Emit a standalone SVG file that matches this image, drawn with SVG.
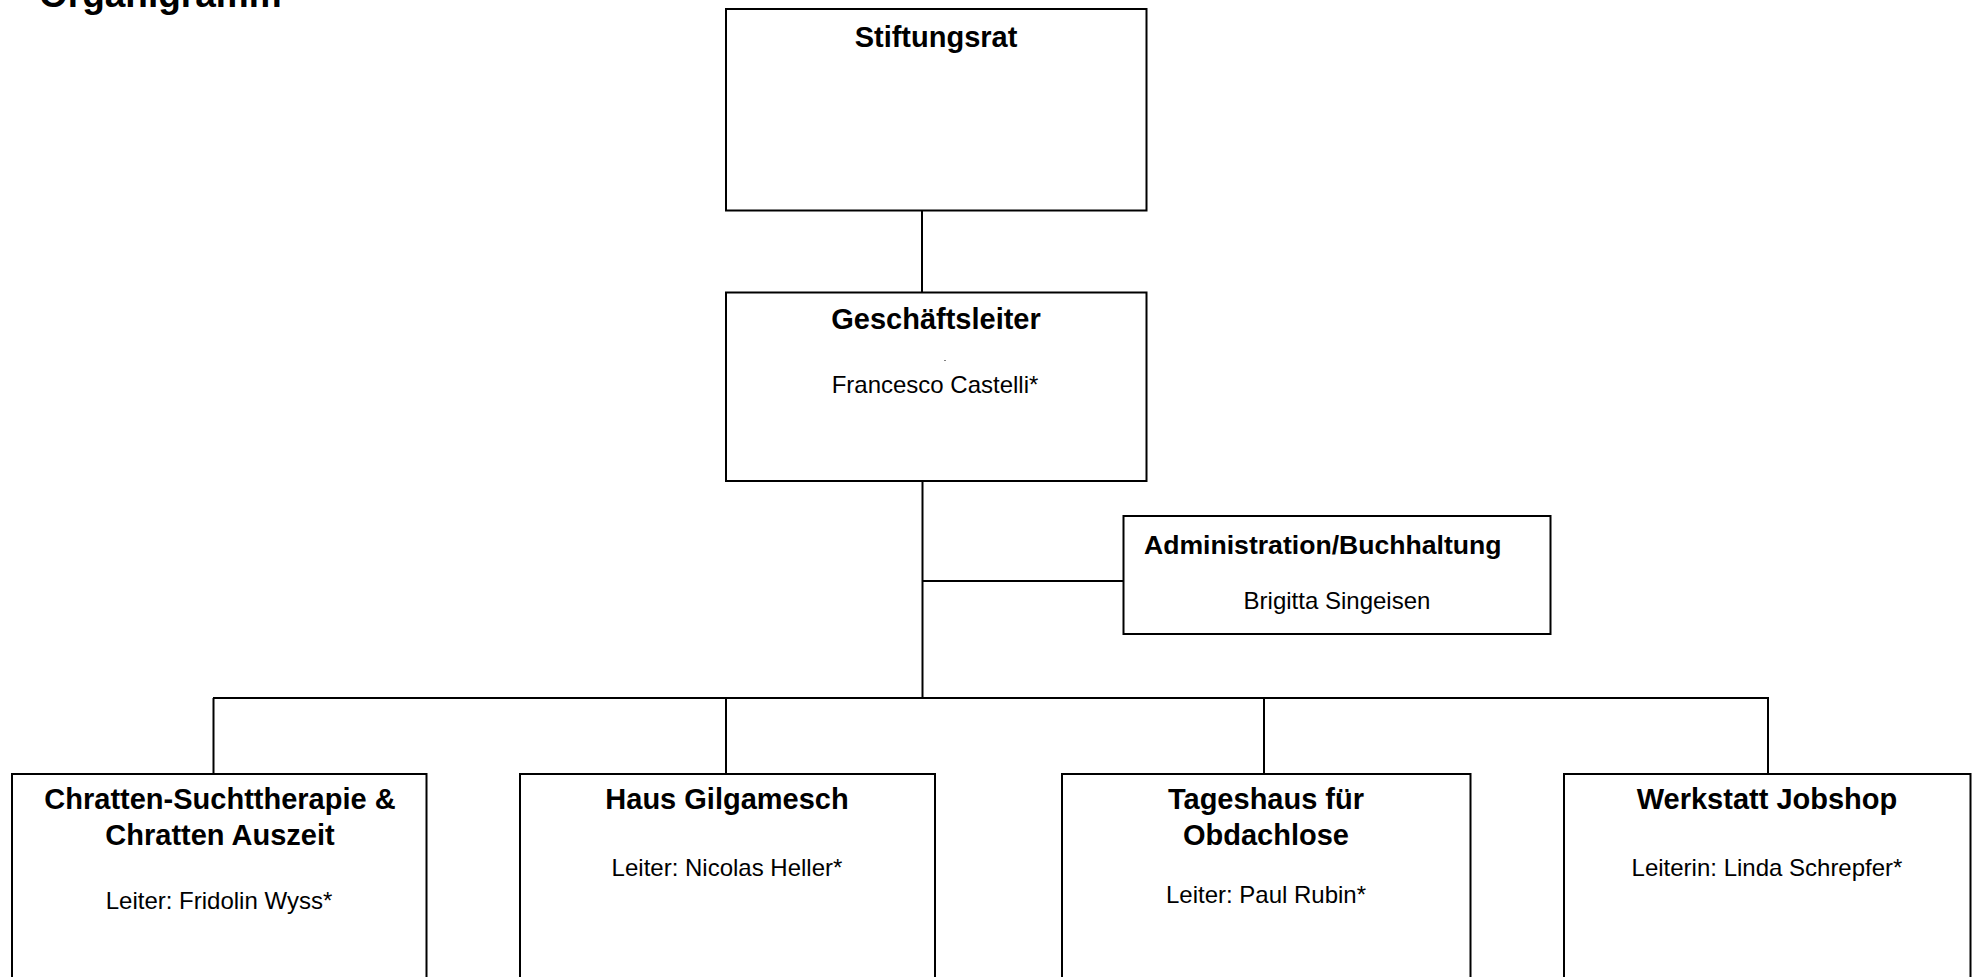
<svg xmlns="http://www.w3.org/2000/svg" width="1972" height="977" viewBox="0 0 1972 977">
<style>
.box{fill:#fff;stroke:#000;stroke-width:2}
.h{font-family:"Liberation Sans",Arial,sans-serif;font-weight:bold;font-size:29px;fill:#000;text-anchor:middle}
.t{font-family:"Liberation Sans",Arial,sans-serif;font-size:24px;fill:#000;text-anchor:middle}
.c{stroke:#000;fill:none;stroke-width:2}
</style>
<rect width="1972" height="977" fill="#fff"/>
<text x="39" y="6.5" font-family="Liberation Sans, Arial, sans-serif" font-weight="bold" font-size="37" fill="#000">Organigramm</text>
<g id="connectors">
<line class="c" x1="922" y1="210.5" x2="922" y2="292.5" stroke-width="1.5"/>
<line class="c" x1="922.5" y1="481" x2="922.5" y2="698" stroke-width="3"/>
<line class="c" x1="922" y1="581" x2="1123.5" y2="581"/>
<line class="c" x1="213" y1="698" x2="1769" y2="698"/>
<line class="c" x1="213.5" y1="698" x2="213.5" y2="774"/>
<line class="c" x1="726" y1="698" x2="726" y2="774"/>
<line class="c" x1="1264" y1="698" x2="1264" y2="774"/>
<line class="c" x1="1768" y1="698" x2="1768" y2="774"/>
</g>
<g id="stiftungsrat">
<rect class="box" x="726" y="9" width="420.5" height="201.5"/>
<text class="h" x="936" y="46.5">Stiftungsrat</text>
</g>
<g id="geschaeftsleiter">
<rect class="box" x="726" y="292.5" width="420.5" height="188.5"/>
<text class="h" x="936" y="329">Geschäftsleiter</text>
<rect x="944.5" y="360" width="1" height="1" fill="#000"/>
<text class="t" x="935" y="393">Francesco Castelli*</text>
</g>
<g id="administration">
<rect class="box" x="1123.5" y="516" width="427" height="118"/>
<text class="h" x="1144" y="554" style="text-anchor:start;font-size:26.6px">Administration/Buchhaltung</text>
<text class="t" x="1337" y="608.5">Brigitta Singeisen</text>
</g>
<g id="chratten">
<rect class="box" x="12" y="774" width="414.5" height="220"/>
<text class="h" x="220" y="809">Chratten-Suchttherapie &amp;</text>
<text class="h" x="220" y="845">Chratten Auszeit</text>
<text class="t" x="219" y="909">Leiter: Fridolin Wyss*</text>
</g>
<g id="gilgamesch">
<rect class="box" x="520" y="774" width="415" height="220"/>
<text class="h" x="727" y="809">Haus Gilgamesch</text>
<text class="t" x="727" y="876">Leiter: Nicolas Heller*</text>
</g>
<g id="tageshaus">
<rect class="box" x="1062" y="774" width="408.5" height="220"/>
<text class="h" x="1266" y="809">Tageshaus für</text>
<text class="h" x="1266" y="845">Obdachlose</text>
<text class="t" x="1266" y="903">Leiter: Paul Rubin*</text>
</g>
<g id="jobshop">
<rect class="box" x="1564" y="774" width="406.5" height="220"/>
<text class="h" x="1767" y="809">Werkstatt Jobshop</text>
<text class="t" x="1767" y="876">Leiterin: Linda Schrepfer*</text>
</g>
</svg>
